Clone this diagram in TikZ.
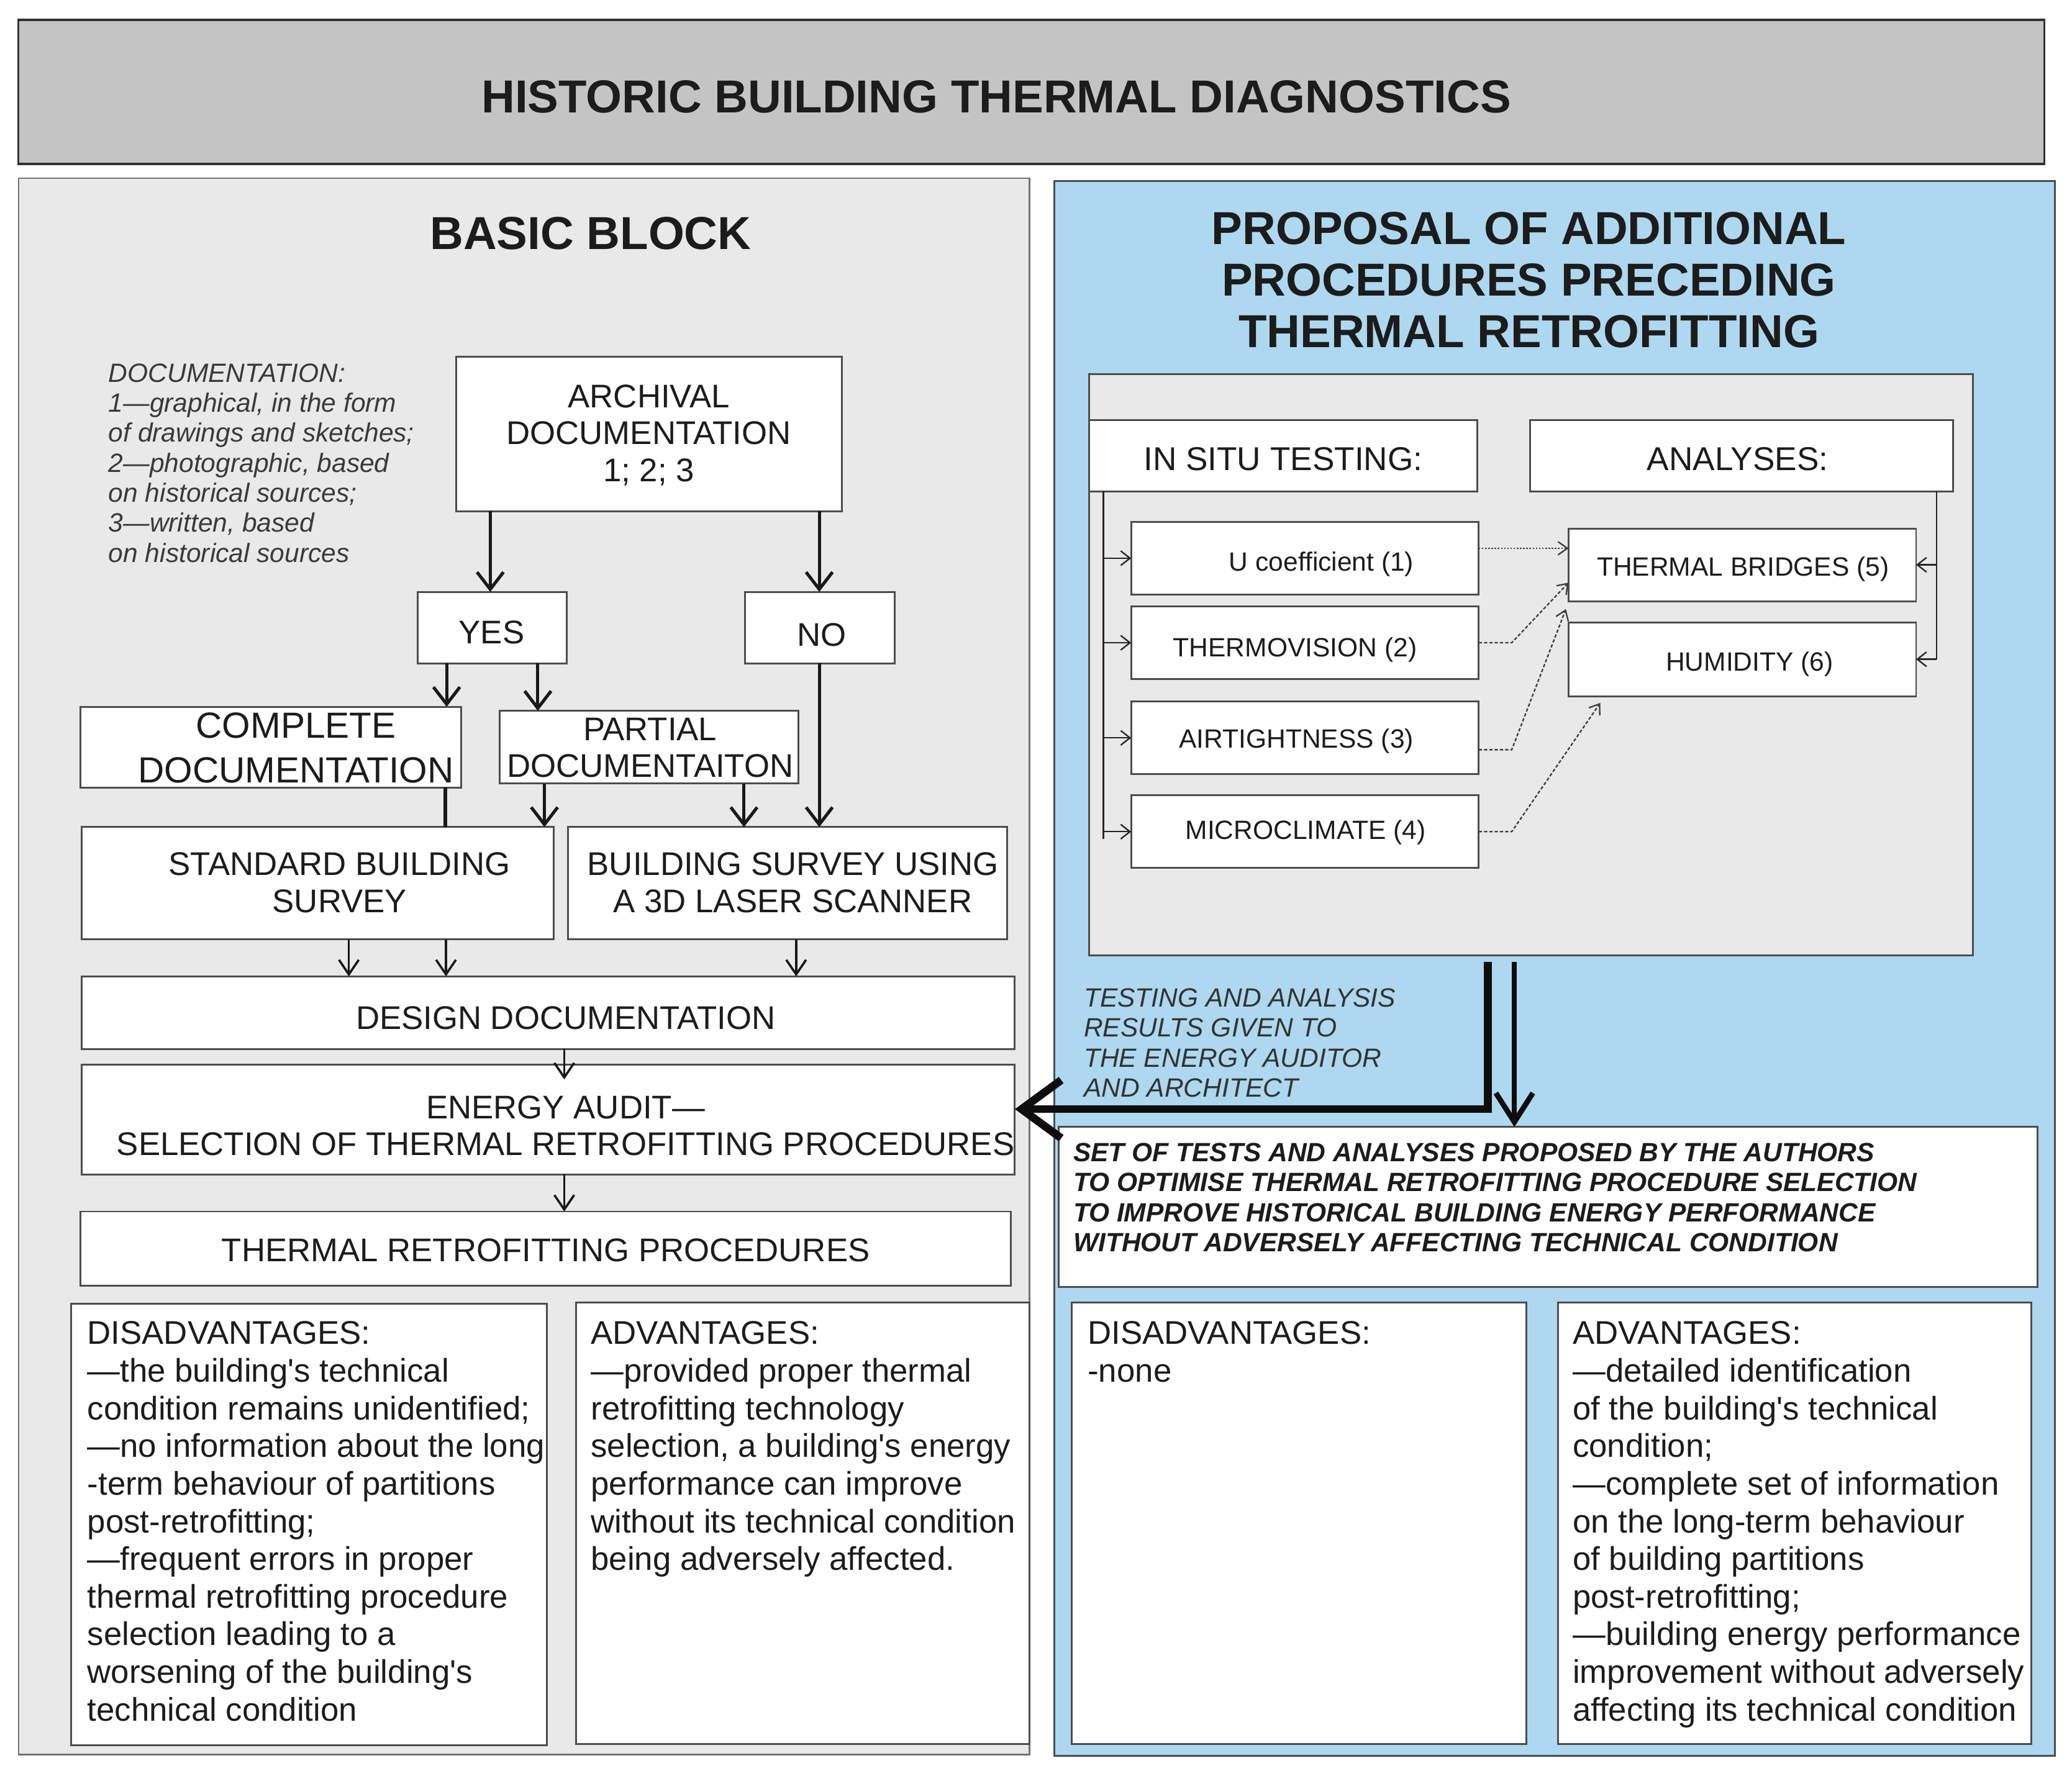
\documentclass[tikz,border=0pt]{standalone}
\usepackage{fontspec}
\setmainfont{Liberation Sans}
\usetikzlibrary{arrows.meta,calc}
\definecolor{titlegray}{HTML}{C4C4C4}
\definecolor{panelgray}{HTML}{E9E9E9}
\definecolor{panelblue}{HTML}{ADD8EF}
\definecolor{edge}{HTML}{4D4D4D}
\definecolor{ink}{HTML}{1C1C1C}
\definecolor{doc}{HTML}{3A3A3A}
\newcommand\fntBox{\fontsize{24.8}{28}\selectfont}
\newcommand\fntHead{\fontsize{35}{39}\selectfont\bfseries}
\newcommand\fntSmall{\fontsize{20}{22.7}\selectfont}
\newcommand\fntDoc{\fontsize{20}{22.7}\selectfont\itshape}
\newcommand\fntSet{\fontsize{20}{22.7}\selectfont\bfseries\itshape}
\newcommand\fntBody{\fontsize{24.8}{28.5}\selectfont}
\newcommand\fntTest{\fontsize{25}{28}\selectfont}
\newcommand\apos{\textquotesingle}
\newcommand\mkbox[6][]{\node[boxst,#1,minimum width={(#5)-(#3)},minimum height={(#6)-(#4)}] (#2) at ({((#3)+(#5))/2},{((#4)+(#6))/2}) {};}
\begin{document}
\begin{tikzpicture}[x=1pt,y=-1pt,
  boxst/.style={draw=edge,line width=1.4pt,fill=white,inner sep=0pt,outer sep=0pt,rectangle},
  txt/.style={inner sep=0pt,text=ink,align=center},
  ltxt/.style={inner sep=0pt,text=ink,align=left,anchor=north west},
  arrA/.style={-{Straight Barb[length=13pt,width=20pt]},line width=2.4pt,draw=black!90},
  lineA/.style={line width=2.4pt,draw=black!90},
  arrB/.style={-{Straight Barb[length=11pt,width=15pt]},line width=1.7pt,draw=black!90},
  arrS/.style={-{Straight Barb[length=7pt,width=11pt]},line width=1.1pt,draw=black!85},
  dotarr/.style={-{Straight Barb[length=7pt,width=10pt]},line width=1.1pt,draw=black!75,dash pattern=on 1.2pt off 1.2pt},
  dasharr/.style={-{Straight Barb[length=7pt,width=10pt]},line width=1.1pt,draw=black!75,dash pattern=on 2.5pt off 1.5pt}]
\useasboundingbox (0,0) rectangle (1568,1344);
\fill[white] (0,0) rectangle (1568,1344);
% frames
\mkbox[fill=titlegray,draw=black!80,line width=1.6pt]{title}{14}{15}{1547}{124}
\mkbox[fill=panelgray,draw=black!55,line width=1.1pt]{lpanel}{14}{135}{779}{1328}
\mkbox[fill=panelblue,draw=black!70,line width=1.3pt]{rpanel}{798}{137}{1555}{1329}
\node[txt,anchor=base,font=\fntHead] (ttitle) at (754,85.5) {HISTORIC BUILDING THERMAL DIAGNOSTICS};
\node[txt,anchor=base,font=\fntHead] (tbasic) at (447,188.5) {BASIC BLOCK};
\node[txt,anchor=north,font=\fntHead] (tprop) at (1157,160.5) {PROPOSAL OF ADDITIONAL\\PROCEDURES PRECEDING\\THERMAL RETROFITTING};
% left flow boxes
\mkbox{arch}{345}{270}{637}{387}
\mkbox{yes}{316}{448}{429}{502}
\mkbox{no}{564}{448}{677}{502}
\mkbox{compl}{61}{535}{349}{596}
\mkbox{part}{378}{538}{604}{593}
\mkbox{std}{62}{626}{419}{711}
\mkbox{bsurv}{430}{626}{762}{711}
\mkbox{design}{62}{739}{768}{794}
\mkbox{energy}{62}{806}{768}{889}
\mkbox{thermp}{61}{917}{765}{973}
\mkbox{ldis}{54}{987}{414}{1321}
\mkbox{ladv}{436}{986}{779}{1320}
\node[ltxt,font=\fntDoc,text=doc] (tdoc) at (82,275) {DOCUMENTATION:\\1—graphical, in the form\\of drawings and sketches;\\2—photographic, based\\on historical sources;\\3—written, based\\on historical sources};
\node[txt,anchor=north,font=\fntBox] (tarch) at (491,291) {ARCHIVAL\\DOCUMENTATION\\1; 2; 3};
\node[txt,anchor=base,font=\fntBox] (tyes) at (372,487) {YES};
\node[txt,anchor=base,font=\fntBox] (tno) at (622,489) {NO};
\node[txt,anchor=north,font=\fontsize{27.5}{34}\selectfont] (tcompl) at (224,539) {COMPLETE\\DOCUMENTATION};
\node[txt,anchor=north,font=\fntBox] (tpart) at (492,543) {PARTIAL\\DOCUMENTAITON};
\node[txt,anchor=north,font=\fntBox] (tstd) at (257,645) {STANDARD BUILDING\\SURVEY};
\node[txt,anchor=north,font=\fntBox] (tbsurv) at (600,645) {BUILDING SURVEY USING\\A 3D LASER SCANNER};
\node[txt,anchor=base,font=\fntBox] (tdesign) at (428,779) {DESIGN DOCUMENTATION};
\node[txt,anchor=north,font=\fntBox] (tenergy) at (428,829) {ENERGY AUDIT—\\SELECTION OF THERMAL RETROFITTING PROCEDURES};
\node[txt,anchor=base,font=\fntBox] (tthermp) at (413,955) {THERMAL RETROFITTING PROCEDURES};
\node[ltxt,font=\fntBody] (tldis) at (66,1000) {DISADVANTAGES:\\—the building\apos s technical\\condition remains unidentified;\\—no information about the long\\-term behaviour of partitions\\post-retrofitting;\\—frequent errors in proper\\thermal retrofitting procedure\\selection leading to a\\worsening of the building\apos s\\technical condition};
\node[ltxt,font=\fntBody] (tladv) at (447,1000) {ADVANTAGES:\\—provided proper thermal\\retrofitting technology\\selection, a building\apos s energy\\performance can improve\\without its technical condition\\being adversely affected.};
% left connectors
\draw[arrA] (371,0 |- arch.south) -- (371,0 |- yes.north);
\draw[arrA] (620,0 |- arch.south) -- (620,0 |- no.north);
\draw[arrA] (338,0 |- yes.south) -- (338,0 |- compl.north);
\draw[arrA] (407,0 |- yes.south) -- (407,0 |- part.north);
\draw[lineA] (337,0 |- compl.south) -- (337,0 |- std.north);
\draw[arrA] (412,0 |- part.south) -- (412,0 |- std.north);
\draw[arrA] (563,0 |- part.south) -- (563,0 |- bsurv.north);
\draw[arrA] (620,0 |- no.south) -- (620,0 |- bsurv.north);
\draw[arrB] (264,0 |- std.south) -- (264,0 |- design.north);
\draw[arrB] (337.5,0 |- std.south) -- (337.5,0 |- design.north);
\draw[arrB] (602.5,0 |- bsurv.south) -- (602.5,0 |- design.north);
\draw[arrB] (427,0 |- design.south) -- ($(427,0 |- energy.north)+(0,11)$);
\draw[arrB] (427,0 |- energy.south) -- (427,0 |- thermp.north);
% right panel
\mkbox[fill=panelgray]{inner}{824}{283}{1493}{723}
\mkbox{insitu}{824}{318}{1118}{372}
\mkbox{analyses}{1158}{318}{1478}{372}
\mkbox{ucoef}{856}{395}{1119}{450}
\mkbox{thermo}{856}{459}{1119}{514}
\mkbox{airt}{856}{531}{1119}{586}
\mkbox{micro}{856}{602}{1119}{657}
\mkbox{tb}{1187}{400}{1450}{455}
\mkbox{hum}{1187}{471}{1450}{527}
\mkbox{setbox}{801}{853}{1542}{974}
\mkbox{rdis}{811}{986}{1155}{1320}
\mkbox{radv}{1179}{986}{1537}{1320}
\node[txt,anchor=base,font=\fntTest] (tinsitu) at (971,356) {IN SITU TESTING:};
\node[txt,anchor=base,font=\fntTest] (tanalyses) at (1315,356) {ANALYSES:};
\node[txt,anchor=base,font=\fntSmall] (tucoef) at (1000,432) {U coefficient (1)};
\node[txt,anchor=base,font=\fntSmall] (tthermo) at (980,497) {THERMOVISION (2)};
\node[txt,anchor=base,font=\fntSmall] (tairt) at (981,566) {AIRTIGHTNESS (3)};
\node[txt,anchor=base,font=\fntSmall] (tmicro) at (988,635) {MICROCLIMATE (4)};
\node[txt,anchor=base,font=\fntSmall] (ttb) at (1319,436) {THERMAL BRIDGES (5)};
\node[txt,anchor=base,font=\fntSmall] (thum) at (1324,508) {HUMIDITY (6)};
\node[ltxt,font=\fntDoc,text=black!80] (ttest) at (820,748) {TESTING AND ANALYSIS\\RESULTS GIVEN TO\\THE ENERGY AUDITOR\\AND ARCHITECT};
\node[ltxt,font=\fntSet] (tset) at (812,865) {SET OF TESTS AND ANALYSES PROPOSED BY THE AUTHORS\\TO OPTIMISE THERMAL RETROFITTING PROCEDURE SELECTION\\TO IMPROVE HISTORICAL BUILDING ENERGY PERFORMANCE\\WITHOUT ADVERSELY AFFECTING TECHNICAL CONDITION};
\node[ltxt,font=\fntBody] (trdis) at (823,1000) {DISADVANTAGES:\\-none};
\node[ltxt,font=\fntBody] (tradv) at (1190,1000) {ADVANTAGES:\\—detailed identification\\of the building\apos s technical\\condition;\\—complete set of information\\on the long-term behaviour\\of building partitions\\post-retrofitting;\\—building energy performance\\improvement without adversely\\affecting its technical condition};
% right connectors
\coordinate (lvend) at (835,635);
\coordinate (rvend) at (1465.5,0 |- hum.east);
\draw[line width=1.1pt,draw=black!85] (835,0 |- insitu.south) -- (lvend);
\foreach \b in {ucoef,thermo,airt,micro}{\draw[arrS] (835,0 |- \b.west) -- (\b.west);}
\draw[line width=1.1pt,draw=black!85] (1465.5,0 |- analyses.south) -- (rvend);
\draw[arrS] (1465.5,0 |- tb.east) -- (tb.east);
\draw[arrS] (rvend) -- (hum.east);
\draw[dotarr] (ucoef.east |- 0,415) -- (tb.west |- 0,415);
\draw[dasharr] (thermo.east) -- ++(25,0) -- ($(tb.south west)+(0,-14)$);
\draw[dasharr] ($(airt.east)+(0,9)$) -- ++(25,0) -- ($(hum.north west)+(-2,-10)$);
\draw[dasharr] (micro.east) -- ++(25,0) -- ($(hum.south west)+(24,5)$);
% thick result arrows
\draw[line width=6pt,line join=miter,draw=black!95,-{Straight Barb[length=30pt,width=44pt]}] ($(1126,0 |- inner.south)+(0,5)$) |- (energy.east |- 0,839.5);
\draw[line width=4pt,draw=black!95,-{Straight Barb[length=22pt,width=28pt]}] ($(1146,0 |- inner.south)+(0,5)$) -- (1146,0 |- setbox.north);
\end{tikzpicture}
\end{document}
